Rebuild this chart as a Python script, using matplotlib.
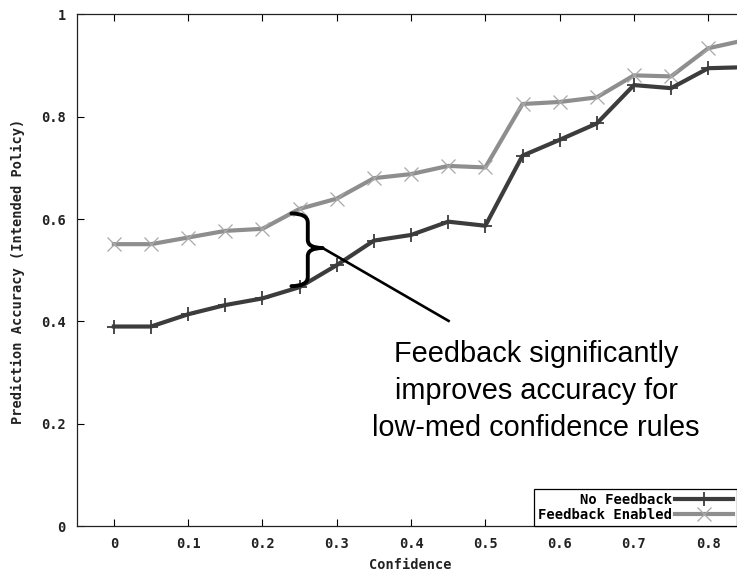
import matplotlib
matplotlib.use("Agg")
import matplotlib.pyplot as plt
from matplotlib.path import Path
import matplotlib.patches as mpatches
from matplotlib.lines import Line2D

# ────── Data ──────

confidence = [0.0, 0.05, 0.1, 0.15, 0.2, 0.25, 0.3, 0.35, 0.4, 0.45,
              0.5, 0.55, 0.6, 0.65, 0.7, 0.75, 0.8, 0.85]
no_feedback = [0.390, 0.390, 0.414, 0.432, 0.445, 0.467, 0.510, 0.558, 0.569, 0.595,
               0.587, 0.724, 0.755, 0.787, 0.862, 0.856, 0.895, 0.897]
feedback_enabled = [0.551, 0.551, 0.564, 0.577, 0.581, 0.620, 0.640, 0.680, 0.688, 0.704,
                    0.701, 0.825, 0.829, 0.838, 0.881, 0.879, 0.934, 0.950]

x_ticks = [0, 0.1, 0.2, 0.3, 0.4, 0.5, 0.6, 0.7, 0.8]
x_tick_labels = ["0", "0.1", "0.2", "0.3", "0.4", "0.5", "0.6", "0.7", "0.8"]
y_ticks = [0, 0.2, 0.4, 0.6, 0.8, 1.0]
y_tick_labels = ["0", "0.2", "0.4", "0.6", "0.8", "1"]

# ────── Style ──────

COLOR_DARK = "#3c3c3c"
COLOR_GRAY = "#8e8e8e"
COLOR_XMARK = "#a8a8a8"
COLOR_TEXT = "#222222"
MONO = "DejaVu Sans Mono"
MONO_SIZE = 9.8

fig = plt.figure(figsize=(7.37, 5.73), dpi=100)
fig.patch.set_facecolor("white")

# axes runs a little past the right edge, as in the cropped original
ax = fig.add_axes([0.1041, 0.082, 0.9073, 0.8927])
ax.set_xlim(-0.05, 0.85)
ax.set_ylim(0, 1)

ax.plot(confidence, no_feedback, color=COLOR_DARK, lw=3.0,
        marker="+", ms=9.5, mew=1.3, mec=COLOR_DARK, zorder=3)
ax.plot(confidence, feedback_enabled, color=COLOR_GRAY, lw=3.0,
        marker="x", ms=9.5, mew=0.9, mec=COLOR_XMARK, zorder=2)

# ── ticks ──
ax.set_xticks(x_ticks)
ax.set_xticklabels(x_tick_labels)
ax.set_yticks(y_ticks)
ax.set_yticklabels(y_tick_labels)
ax.tick_params(direction="in", length=5, width=0.8, top=True, right=True,
               labelsize=MONO_SIZE, colors="black")
ax.tick_params(axis="x", pad=8)
ax.tick_params(axis="y", pad=8)
for lab in ax.get_xticklabels() + ax.get_yticklabels():
    lab.set_family(MONO)
    lab.set_fontweight("bold")
    lab.set_color(COLOR_TEXT)
for sp in ax.spines.values():
    sp.set_linewidth(0.9)
    sp.set_color(COLOR_TEXT)

fig.text(410 / 737, 1 - 565 / 573, "Confidence", ha="center", va="center",
         family=MONO, fontweight="bold", fontsize=MONO_SIZE, color=COLOR_TEXT)
fig.text(18 / 737, 1 - 271 / 573, "Prediction Accuracy (Intended Policy)",
         ha="center", va="center", rotation=90,
         family=MONO, fontweight="bold", fontsize=MONO_SIZE, color=COLOR_TEXT)

# ── brace + pointer ──
bx0, bx1, bxm = 0.239, 0.261, 0.281
yt, ym, yb = 0.611, 0.5435, 0.469
verts = [(bx0, yt), (bx1, yt), (bx1, yt - 0.018),
         (bx1, ym + 0.016),
         (bx1, ym), (bxm, ym),
         (bx1, ym), (bx1, ym - 0.016),
         (bx1, yb + 0.018),
         (bx1, yb), (bx0, yb)]
codes = [Path.MOVETO, Path.CURVE3, Path.CURVE3,
         Path.LINETO,
         Path.CURVE3, Path.CURVE3,
         Path.CURVE3, Path.CURVE3,
         Path.LINETO,
         Path.CURVE3, Path.CURVE3]
ax.add_patch(mpatches.PathPatch(Path(verts, codes), fill=False,
                                edgecolor="black", lw=2.8, zorder=5,
                                capstyle="round", joinstyle="round"))
ax.plot([bxm, 0.4505], [ym, 0.401], color="black", lw=1.9, zorder=5)

fig.text(536 / 737, 1 - 391 / 573,
         "Feedback significantly\nimproves accuracy for\nlow-med confidence rules",
         ha="center", va="center", fontsize=20.8, family="Liberation Sans",
         linespacing=1.43, color="black")

# ── legend ──
handles = [
    Line2D([], [], color=COLOR_DARK, lw=3.0, marker="+", ms=9.5, mew=1.3),
    Line2D([], [], color=COLOR_GRAY, lw=3.0, marker="x", ms=9.5, mew=0.9,
           mec=COLOR_XMARK),
]
leg = ax.legend(handles, ["No Feedback", "Feedback Enabled"],
                loc="upper left", bbox_to_anchor=(534 / 737, 1 - 489 / 573),
                bbox_transform=fig.transFigure, borderaxespad=0,
                markerfirst=False, fancybox=False, framealpha=1,
                edgecolor="black", handlelength=4.2, handletextpad=0.2,
                labelspacing=0.05, borderpad=0.3, numpoints=1,
                prop={"family": MONO, "weight": "bold", "size": 10})
leg.get_frame().set_linewidth(0.9)
leg.set_zorder(6)

fig.savefig("out.png", dpi=100, facecolor="white")
